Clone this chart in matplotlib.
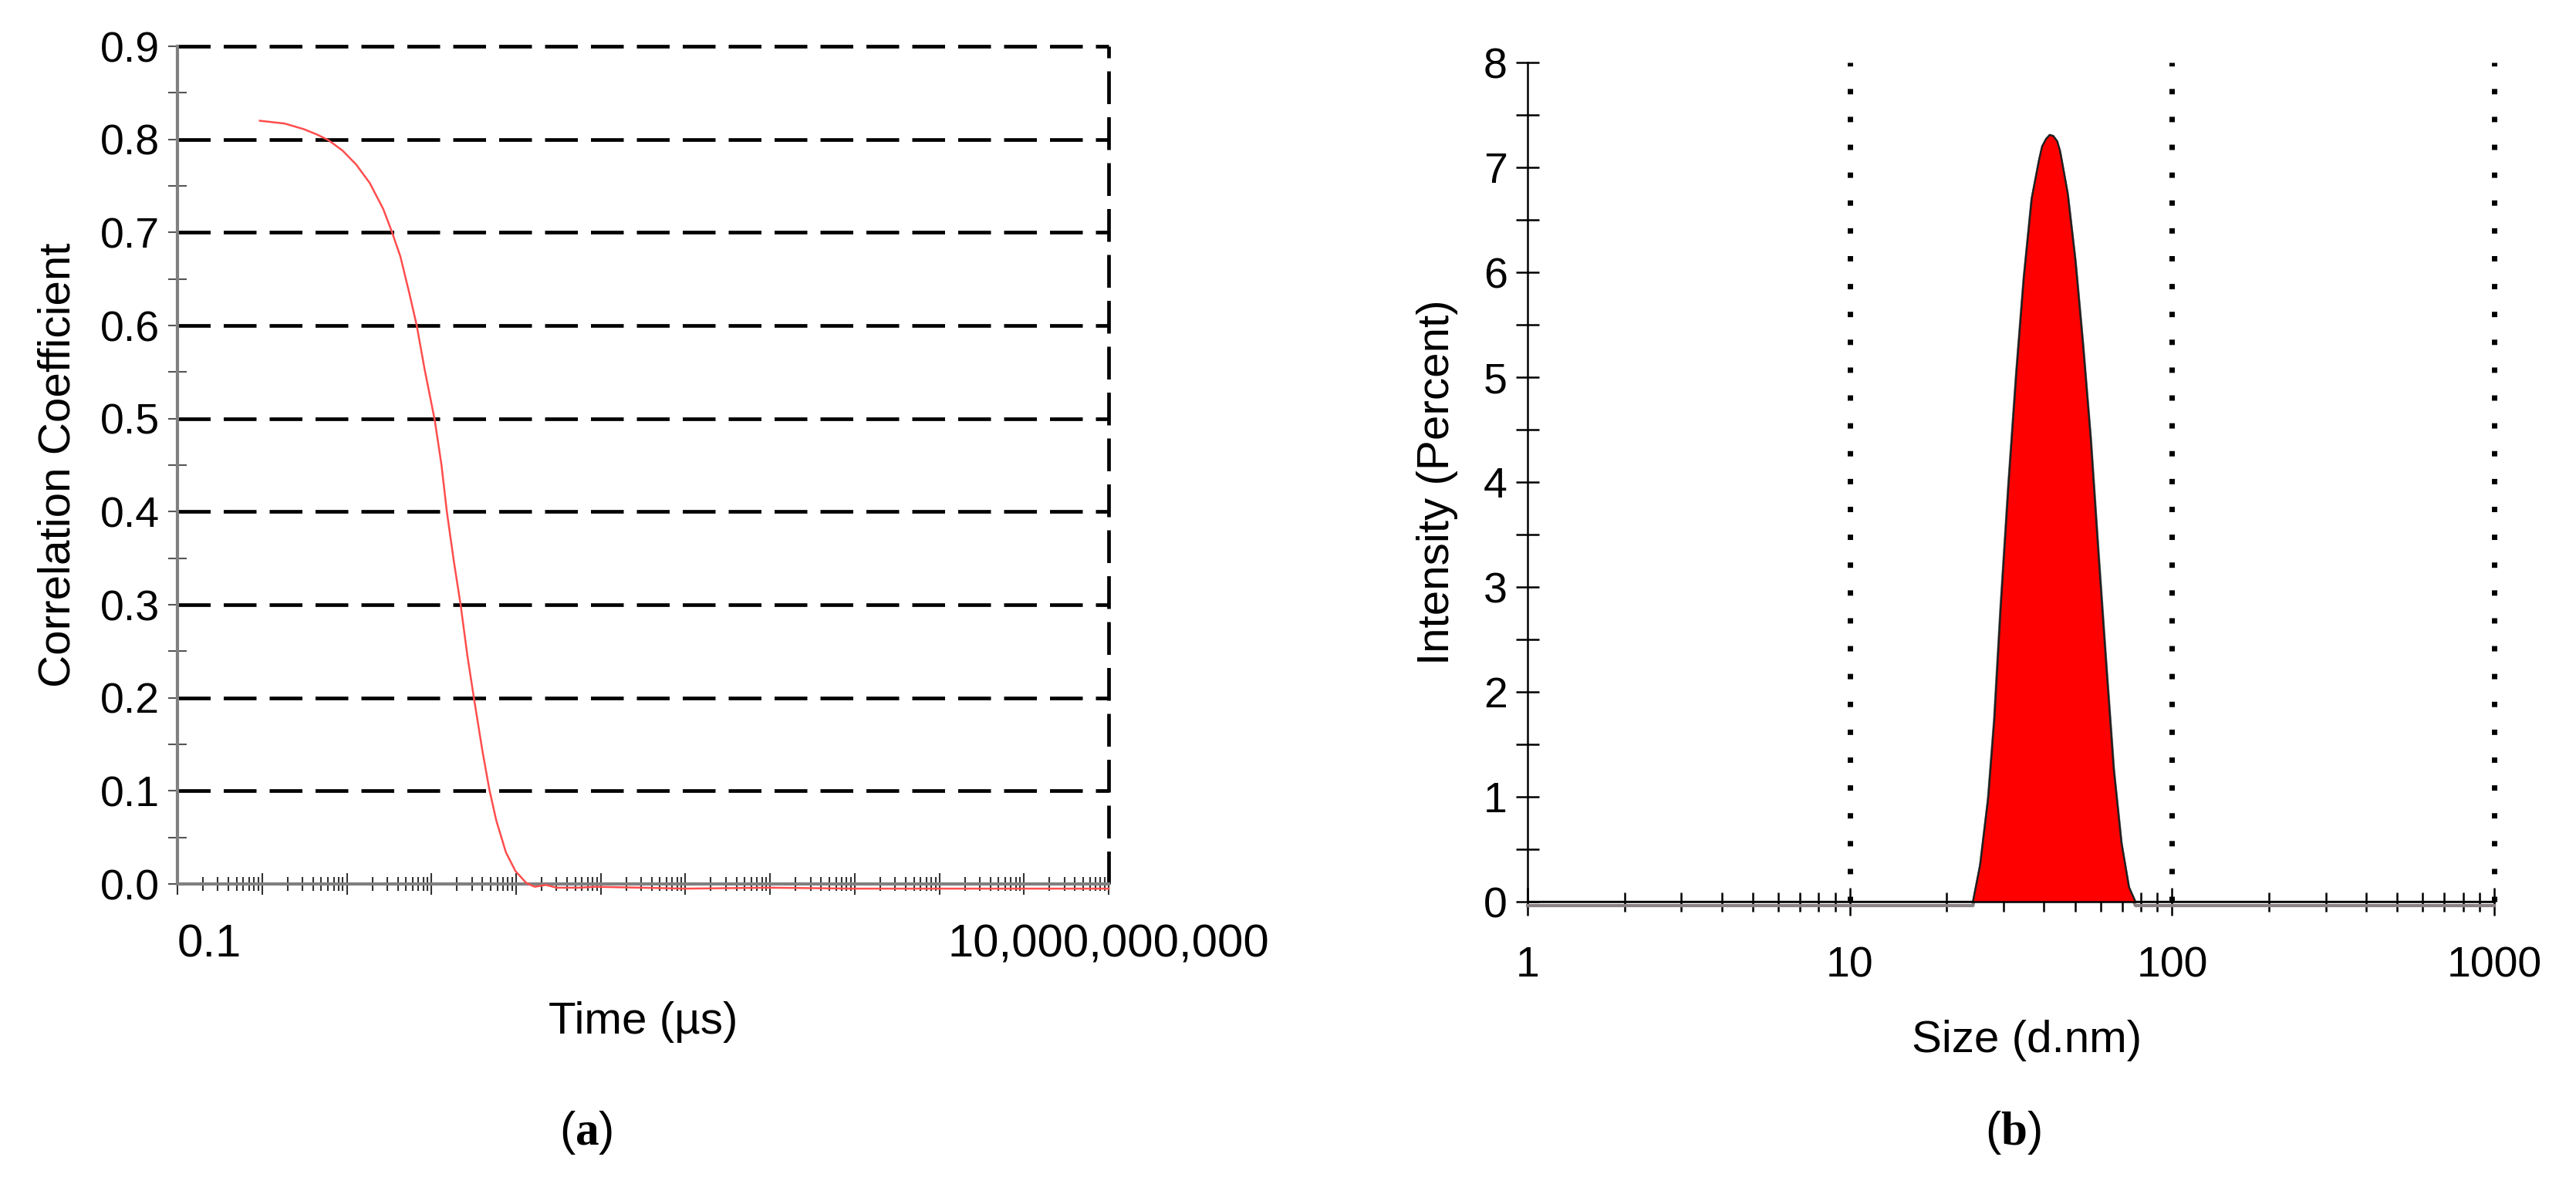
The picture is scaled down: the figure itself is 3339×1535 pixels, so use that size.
import matplotlib
matplotlib.use('Agg')
import matplotlib.pyplot as plt
import matplotlib.ticker as mticker
import matplotlib.transforms as mtransforms

plt.rcParams['font.family'] = ['Liberation Sans', 'DejaVu Sans']
plt.rcParams['mathtext.fontset'] = 'custom'
plt.rcParams['mathtext.rm'] = 'Liberation Serif'
plt.rcParams['mathtext.bf'] = 'Liberation Serif:bold'

# (a) correlation function
time_us = [0.94, 1.85, 3.1, 4.5, 6.1, 8.9, 12.9, 18.7, 27, 34, 43, 55, 67, 83, 109,
           131, 152, 183, 221, 266, 321, 400, 484, 584, 758, 980, 1320, 1660, 2240,
           3020, 5500, 8600, 3e4, 1e5, 1e6, 1e7, 1e8, 1e9, 1e10]
corr = [0.820, 0.817, 0.811, 0.805, 0.799, 0.788, 0.773, 0.753, 0.725, 0.701, 0.674,
        0.634, 0.600, 0.553, 0.499, 0.451, 0.400, 0.348, 0.300, 0.245, 0.197, 0.143,
        0.101, 0.068, 0.034, 0.014, 0.001, -0.003, -0.001, -0.004, -0.004, -0.003,
        -0.004, -0.005, -0.004, -0.005, -0.005, -0.005, -0.005]
grid_levels = [0.1, 0.2, 0.3, 0.4, 0.5, 0.6, 0.7, 0.8, 0.9]
xa_ticks = [0.1, 1e10]
xa_labels = ['0.1', '10,000,000,000']

# (b) size distribution
size_nm = [1, 24.1, 25.4, 26.9, 28.1, 29.4, 31.1, 32.9, 34.7, 36.7, 38.7, 39.5, 40.6,
           41.7, 42.8, 44.0, 44.9, 47.4, 50.1, 52.9, 55.9, 59.0, 62.4, 65.9, 69.6,
           73.5, 77.0, 1000]
intensity = [0, 0, 0.36, 1.0, 1.75, 2.81, 3.99, 5.06, 5.96, 6.71, 7.08, 7.20, 7.27,
             7.31, 7.30, 7.25, 7.16, 6.76, 6.12, 5.32, 4.42, 3.35, 2.28, 1.27, 0.57,
             0.14, 0, 0]
xb_ticks = [1, 10, 100, 1000]
xb_labels = ['1', '10', '100', '1000']
dot_lines = [10, 100, 1000]

fig = plt.figure(figsize=(33.39, 15.35), dpi=100)
ax1 = fig.add_axes([0.0689, 0.2534, 0.3615, 0.7075])
ax2 = fig.add_axes([0.593, 0.2384, 0.3753, 0.7088])

# ---- left panel
ax1.set_xscale('log')
ax1.set_xlim(0.1, 1e10)
ax1.set_ylim(0, 0.9)
for g in grid_levels:
    ax1.axhline(g, color='k', lw=3.4, ls=(0, (9, 3.6)), clip_on=False, zorder=2)
ax1.axvline(1e10, color='k', lw=3.4, ls=(0, (9, 3.6)), clip_on=False, zorder=2)
ax1.plot(time_us, corr, color='#ff4d4d', lw=1.8, clip_on=False, zorder=4)

for s in ['top', 'right']:
    ax1.spines[s].set_visible(False)
for s in ['left', 'bottom']:
    ax1.spines[s].set_color('#808080')
    ax1.spines[s].set_linewidth(3)

ax1.yaxis.set_major_locator(mticker.MultipleLocator(0.1))
ax1.yaxis.set_minor_locator(mticker.MultipleLocator(0.05))
ax1.yaxis.set_major_formatter(mticker.FormatStrFormatter('%.1f'))
ax1.tick_params(axis='y', which='both', direction='inout', length=17, width=1.5,
                color='#555555', labelsize=40, pad=8)
ax1.xaxis.set_major_locator(mticker.LogLocator(base=10, numticks=20))
ax1.xaxis.set_minor_locator(mticker.LogLocator(base=10, subs=range(2, 10), numticks=200))
ax1.xaxis.set_minor_formatter(mticker.NullFormatter())
ax1.xaxis.set_major_formatter(mticker.FuncFormatter(
    lambda v, p: xa_labels[xa_ticks.index(v)] if v in xa_ticks else ''))
ax1.tick_params(axis='x', which='major', direction='inout', length=20, width=1.5,
                color='#333333', labelsize=43, pad=27)
ax1.tick_params(axis='x', which='minor', direction='inout', length=13, width=1.5,
                color='#333333')
ax1.set_xlabel('Time (µs)', fontsize=42, va='center')
ax1.xaxis.set_label_coords(0.5, -0.165)
ax1.set_ylabel('Correlation Coefficient', fontsize=42, va='center')
ax1.yaxis.set_label_coords(-0.128, 0.5)

# ---- right panel
ax2.set_xscale('log')
ax2.set_xlim(1, 1000)
ax2.set_ylim(0, 8)
for v in dot_lines:
    ax2.axvline(v, color='k', lw=5, ls=(0, (1, 4.2)), clip_on=False, zorder=2)
shadow = mtransforms.offset_copy(ax2.transData, fig=fig, x=0, y=-5, units='dots')
ax2.plot(size_nm, intensity, color='#8a8282', lw=3, transform=shadow, clip_on=False, zorder=2.5)
ax2.fill_between(size_nm, intensity, color='#ff0000', lw=0, zorder=3)
ax2.plot(size_nm, intensity, color='#202020', lw=1.8, zorder=4)

for s in ['top', 'right']:
    ax2.spines[s].set_visible(False)
for s in ['left', 'bottom']:
    ax2.spines[s].set_color('k')
    ax2.spines[s].set_linewidth(1.8)
    ax2.spines[s].set_zorder(5)

ax2.yaxis.set_major_locator(mticker.MultipleLocator(1))
ax2.yaxis.set_minor_locator(mticker.MultipleLocator(0.5))
ax2.tick_params(axis='y', which='both', direction='inout', length=22, width=1.8,
                color='k', labelsize=40, pad=8)
ax2.set_xticks(xb_ticks)
ax2.set_xticklabels(xb_labels)
ax2.xaxis.set_minor_locator(mticker.LogLocator(base=10, subs=range(2, 10), numticks=50))
ax2.xaxis.set_minor_formatter(mticker.NullFormatter())
ax2.tick_params(axis='x', which='major', direction='inout', length=26, width=1.8,
                color='k', labelsize=40, pad=28)
ax2.tick_params(axis='x', which='minor', direction='inout', length=18, width=1.8, color='k')
ax2.set_xlabel('Size (d.nm)', fontsize=42, va='center')
ax2.xaxis.set_label_coords(0.516, -0.165)
ax2.set_ylabel('Intensity (Percent)', fontsize=42, va='center')
ax2.yaxis.set_label_coords(-0.093, 0.5)

# captions
fig.text(0.2276, 0.043, r'($\mathbf{a}$)', fontsize=44, ha='center', va='center')
fig.text(0.7814, 0.043, r'($\mathbf{b}$)', fontsize=44, ha='center', va='center')

for lab in ax1.get_xticklabels():
    if lab.get_text() == '0.1':
        lab.set_ha('left')

fig.savefig('out.png', dpi=100)
